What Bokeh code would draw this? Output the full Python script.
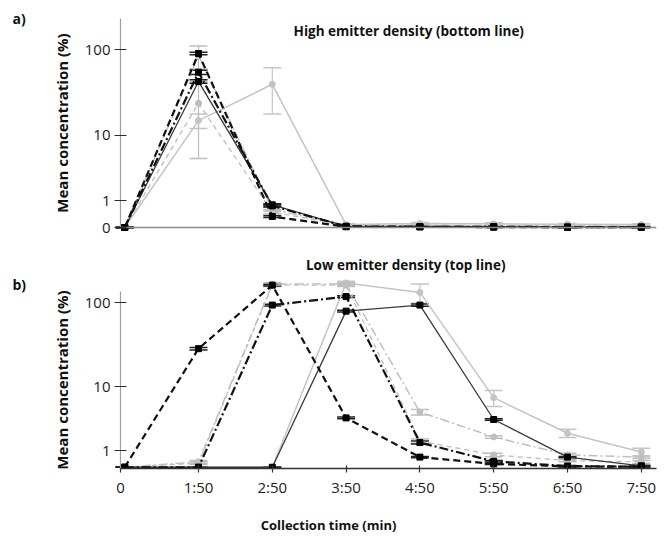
import numpy as np
from bokeh.plotting import figure
from bokeh.models import (ColumnDataSource, Whisker, TeeHead, FixedTicker, Label, Range1d)
from bokeh.layouts import column
from bokeh.embed import file_html
from bokeh.resources import INLINE

# ---------------- data ----------------
x_labels = ["0", "1:50", "2:50", "3:50", "4:50", "5:50", "6:50", "7:50"]
x_idx = list(range(len(x_labels)))

# a) High emitter density (bottom line) -- mean concentration (%)
a_black_solid = [0, 43, 0.80, 0.03, 0.02, 0.02, 0.01, 0.01]
a_black_dashed = [0, 90, 0.33, 0.02, 0.02, 0.01, 0.01, 0.01]
a_black_dashdot = [0, 55, 0.75, 0.03, 0.02, 0.02, 0.01, 0.01]
a_gray_solid = [0, 15, 40, 0.08, 0.11, 0.10, 0.09, 0.08]
a_gray_dashed = [0, 24, 0.50, 0.05, 0.05, 0.04, 0.04, 0.03]
a_gray_dashdot = [0, 85, 0.60, 0.06, 0.06, 0.05, 0.05, 0.04]

a_black_solid_err = [0, 2, 0.05, 0.01, 0.01, 0.01, 0.01, 0.01]
a_black_dashed_err = [0, 3, 0.03, 0.01, 0.01, 0.01, 0.01, 0.01]
a_black_dashdot_err = [0, 3, 0.05, 0.01, 0.01, 0.01, 0.01, 0.01]
a_gray_solid_err = [0, 3, 22, 0.02, 0.03, 0.03, 0.02, 0.02]
a_gray_dashed_err = [0, 19, 0.08, 0.01, 0.01, 0.01, 0.01, 0.01]
a_gray_dashdot_err = [0, 25, 0.08, 0.01, 0.01, 0.01, 0.01, 0.01]

# b) Low emitter density (top line)
b_black_solid = [0.3, 0.3, 0.3, 80, 94, 3.6, 0.7, 0.35]
b_black_dashed = [0.3, 29, 160, 3.8, 0.7, 0.42, 0.33, 0.32]
b_black_dashdot = [0.3, 0.3, 94, 118, 1.5, 0.52, 0.34, 0.32]
b_gray_solid = [0.3, 0.3, 0.3, 170, 132, 7.2, 2.2, 0.95]
b_gray_dashed = [0.3, 0.45, 160, 160, 1.6, 0.8, 0.55, 0.5]
b_gray_dashdot = [0.3, 0.5, 165, 165, 4.6, 1.9, 0.8, 0.7]

b_black_solid_err = [0, 0, 0, 2, 3, 0.1, 0.03, 0.02]
b_black_dashed_err = [0, 1, 3, 0.1, 0.03, 0.02, 0.02, 0.02]
b_black_dashdot_err = [0, 0, 2, 3, 0.1, 0.03, 0.02, 0.02]
b_gray_solid_err = [0, 0, 0, 8, 33, 1.7, 0.35, 0.2]
b_gray_dashed_err = [0, 0.05, 6, 6, 0.15, 0.08, 0.05, 0.05]
b_gray_dashdot_err = [0, 0.05, 6, 6, 0.4, 0.1, 0.08, 0.05]

y_ticks_a = [0, 1, 10, 100]
y_ticks_b = [1, 10, 100]

FONT = "Open Sans"

STYLES = {
    "gray_solid": dict(color="#c4c4c4", width=1.5, dash="solid", marker="circle"),
    "gray_dashed": dict(color="#bdbdbd", width=1.3, dash="5 4", marker="circle"),
    "gray_dashdot": dict(color="#bfbfbf", width=1.5, dash="9 3 2 3", marker="circle"),
    "black_solid": dict(color="#3a3a3a", width=1.3, dash="solid", marker="square"),
    "black_dashed": dict(color="#111111", width=2.2, dash="7 4", marker="square"),
    "black_dashdot": dict(color="#111111", width=2.2, dash="9 3 2 3", marker="square"),
}

X_START, X_AXIS, X_END = -1.683, -0.057, 7.206
x_tick_pos = [X_AXIS] + x_idx[1:]   # first category label sits at the value axis


def draw(p, key, vals, errs, ystart):
    st = STYLES[key]
    v = np.array(vals, dtype=float)
    e = np.array(errs, dtype=float)
    y = v + 1.0
    lo = np.maximum(np.maximum(v - e, 0) + 1.0, ystart)
    hi = v + e + 1.0
    src = ColumnDataSource(dict(x=x_idx, y=y, lo=lo, hi=hi))
    p.line("x", "y", source=src, line_color=st["color"], line_width=st["width"],
           line_dash=st["dash"])
    head_color = st["color"] if key.startswith("gray") else "#222222"
    w = Whisker(source=src, base="x", upper="hi", lower="lo", dimension="height",
                line_color=head_color, line_width=1.2,
                upper_head=TeeHead(size=18, line_color=head_color, line_width=1.5),
                lower_head=TeeHead(size=18, line_color=head_color, line_width=1.5))
    p.add_layout(w)
    fill = st["color"] if key.startswith("gray") else "#000000"
    p.scatter("x", "y", source=src, marker=st["marker"], size=6,
              fill_color=fill, line_color=fill)


def make_fig(y_start, y_end, y_axis_bounds, frame_h, bottom_border):
    p = figure(frame_width=656, frame_height=frame_h, y_axis_type="log",
               x_range=Range1d(X_START, X_END), y_range=Range1d(y_start, y_end),
               output_backend="svg", toolbar_location=None,
               min_border_left=0, min_border_right=4,
               min_border_top=0, min_border_bottom=bottom_border)
    p.outline_line_color = None
    p.xgrid.grid_line_color = None
    p.ygrid.grid_line_color = None
    p.background_fill_color = "white"
    p.border_fill_color = "white"
    ya = p.yaxis[0]
    ya.fixed_location = X_AXIS
    ya.bounds = y_axis_bounds
    ya.axis_line_color = "#a0a0a0"
    ya.axis_line_width = 1.2
    ya.major_tick_line_color = "#303030"
    ya.major_tick_line_width = 1.2
    ya.major_tick_in = 6
    ya.major_tick_out = 6
    ya.minor_tick_line_color = None
    ya.major_label_standoff = 4
    ya.major_label_text_font = FONT
    ya.major_label_text_font_size = "15px"
    ya.major_label_text_color = "#222222"
    ya.axis_label = "Mean concentration (%)"
    ya.axis_label_text_font = FONT
    ya.axis_label_text_font_style = "bold"
    ya.axis_label_text_font_size = "15px"
    ya.axis_label_text_color = "#111111"
    ya.axis_label_standoff = 10
    xa = p.xaxis[0]
    xa.bounds = (X_AXIS, X_END)
    xa.ticker = FixedTicker(ticks=x_tick_pos)
    xa.major_label_overrides = {t: lab for t, lab in zip(x_tick_pos, x_labels)}
    xa.minor_tick_line_color = None
    xa.major_label_text_font = FONT
    xa.major_label_text_font_size = "15px"
    xa.major_label_text_color = "#222222"
    return p


# ---------------- panel a ----------------
pa = make_fig(0.551, 360.0, (1.0, 225.8), 250, 0)
pa.yaxis[0].ticker = FixedTicker(ticks=[t + 1 for t in y_ticks_a], minor_ticks=[])
pa.yaxis[0].major_label_overrides = {t + 1: str(t) for t in y_ticks_a}
xa_ = pa.xaxis[0]
xa_.fixed_location = 1.0
xa_.axis_line_color = "#8a8a8a"
xa_.axis_line_width = 1.5
xa_.major_tick_line_color = None
xa_.major_tick_out = 0
xa_.major_tick_in = 0
xa_.major_label_text_color = None
xa_.major_label_text_font_size = "1px"

for key, vals, errs in [
    ("gray_solid", a_gray_solid, a_gray_solid_err),
    ("gray_dashed", a_gray_dashed, a_gray_dashed_err),
    ("gray_dashdot", a_gray_dashdot, a_gray_dashdot_err),
    ("black_solid", a_black_solid, a_black_solid_err),
    ("black_dashdot", a_black_dashdot, a_black_dashdot_err),
    ("black_dashed", a_black_dashed, a_black_dashed_err),
]:
    draw(pa, key, vals, errs, 1.0)

pa.add_layout(Label(x=410, y=220, x_units="screen", y_units="screen",
                    text="High emitter density  (bottom line)", text_align="center",
                    text_baseline="middle", text_font=FONT, text_font_style="bold",
                    text_font_size="13.5px", text_color="#111111"))
pa.add_layout(Label(x=12, y=232, x_units="screen", y_units="screen", text="a)",
                    text_align="left", text_baseline="middle", text_font=FONT,
                    text_font_style="bold", text_font_size="14px", text_color="#111111"))

# ---------------- panel b ----------------
pb = make_fig(1.258, 403.0, (1.258, 135.0), 218, 67)
pb.yaxis[0].ticker = FixedTicker(ticks=[t + 1 for t in y_ticks_b], minor_ticks=[])
pb.yaxis[0].major_label_overrides = {t + 1: str(t) for t in y_ticks_b}
xb = pb.xaxis[0]
xb.axis_line_color = "#333333"
xb.axis_line_width = 1.5
xb.major_tick_line_color = "#333333"
xb.major_tick_line_width = 1.2
xb.major_tick_in = 3
xb.major_tick_out = 4
xb.major_label_standoff = 4
xb.axis_label = "Collection time (min)"
xb.axis_label_text_font = FONT
xb.axis_label_text_font_style = "bold"
xb.axis_label_text_font_size = "13px"
xb.axis_label_text_color = "#111111"
xb.axis_label_standoff = 16

for key, vals, errs in [
    ("gray_solid", b_gray_solid, b_gray_solid_err),
    ("gray_dashed", b_gray_dashed, b_gray_dashed_err),
    ("gray_dashdot", b_gray_dashdot, b_gray_dashdot_err),
    ("black_solid", b_black_solid, b_black_solid_err),
    ("black_dashdot", b_black_dashdot, b_black_dashdot_err),
    ("black_dashed", b_black_dashed, b_black_dashed_err),
]:
    draw(pb, key, vals, errs, 1.258)

pb.add_layout(Label(x=407, y=204, x_units="screen", y_units="screen",
                    text="Low emitter density  (top line)", text_align="center",
                    text_baseline="middle", text_font=FONT, text_font_style="bold",
                    text_font_size="13.5px", text_color="#111111"))
pb.add_layout(Label(x=12, y=184, x_units="screen", y_units="screen", text="b)",
                    text_align="left", text_baseline="middle", text_font=FONT,
                    text_font_style="bold", text_font_size="14px", text_color="#111111"))

layout = column(pa, pb, spacing=0)
open("out.html", "w").write(file_html(layout, INLINE))
